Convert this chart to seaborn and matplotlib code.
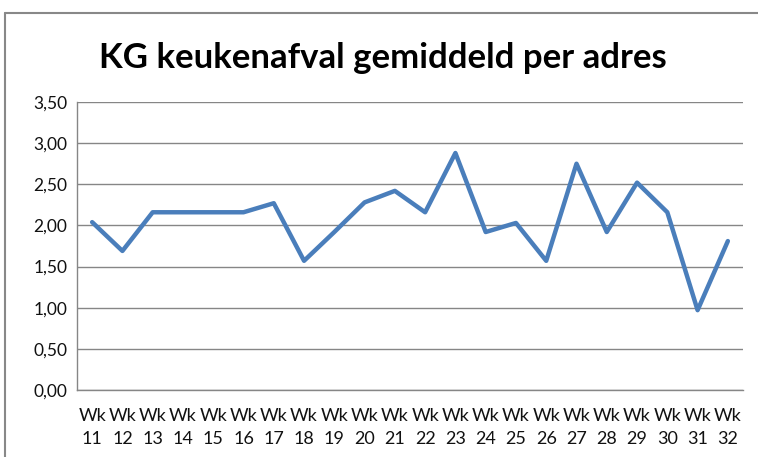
import matplotlib
matplotlib.use("Agg")
import matplotlib.pyplot as plt
import seaborn as sns
import pandas as pd
from matplotlib.ticker import FixedLocator, FuncFormatter
from matplotlib.lines import Line2D

weeks = ["11", "12", "13", "14", "15", "16", "17", "18", "19", "20", "21",
         "22", "23", "24", "25", "26", "27", "28", "29", "30", "31", "32"]
values = [2.04, 1.69, 2.16, 2.16, 2.16, 2.16, 2.27, 1.57, 1.92, 2.28, 2.42,
          2.16, 2.88, 1.92, 2.03, 1.57, 2.75, 1.92, 2.52, 2.16, 0.97, 1.81]
tick_labels = ["Wk\n" + w for w in weeks]
title = "KG keukenafval gemiddeld per adres"

sns.set_theme(style="white")
plt.rcParams["font.family"] = ["Lato", "DejaVu Sans"]

df = pd.DataFrame({"week": tick_labels, "kg": values})

fig = plt.figure(figsize=(7.58, 4.57), dpi=100)
ax = fig.add_axes([77 / 758, 1 - 390 / 457, 666 / 758, 288 / 457])

sns.lineplot(data=df, x="week", y="kg", ax=ax, color="#4A7EBB", linewidth=3.2,
             sort=False)

grid_c = "#868686"
ax.set_ylim(0, 3.5)
ax.set_xlim(-0.5, len(weeks) - 0.5)
ax.set_yticks([0, 0.5, 1.0, 1.5, 2.0, 2.5, 3.0, 3.5])
ax.yaxis.set_major_formatter(FuncFormatter(lambda v, p: f"{v:.2f}".replace(".", ",")))
ax.yaxis.grid(True, color=grid_c, linewidth=1.0)
ax.set_axisbelow(True)

ax.set_xticks(range(len(weeks)))
ax.set_xticklabels(tick_labels, fontsize=13, linespacing=1.55)
ax.xaxis.set_minor_locator(FixedLocator([i - 0.5 for i in range(len(weeks) + 1)]))
ax.tick_params(axis="x", which="major", length=0, pad=13)
ax.tick_params(axis="x", which="minor", length=5, color=grid_c, width=1)
ax.tick_params(axis="y", which="major", length=5, color=grid_c, width=1,
               labelsize=12.5, pad=2)
for lab in ax.get_yticklabels() + ax.get_xticklabels():
    lab.set_color("#111111")

ax.set_xlabel("")
ax.set_ylabel("")
for s in ["top", "right"]:
    ax.spines[s].set_visible(False)
for s in ["left", "bottom"]:
    ax.spines[s].set_color(grid_c)
    ax.spines[s].set_linewidth(1.0)

fig.text(383 / 758, 1 - 58 / 457, title, ha="center", va="center",
         fontsize=25, fontweight="bold", color="#000000")

# chart frame (top and left edges visible)
fig.add_artist(Line2D([5 / 758, 1.0], [1 - 13 / 457, 1 - 13 / 457],
                      transform=fig.transFigure, color="#888888", linewidth=1.5))
fig.add_artist(Line2D([5 / 758, 5 / 758], [0, 1 - 13 / 457],
                      transform=fig.transFigure, color="#888888", linewidth=1.5))

fig.savefig("out.png", dpi=100)
